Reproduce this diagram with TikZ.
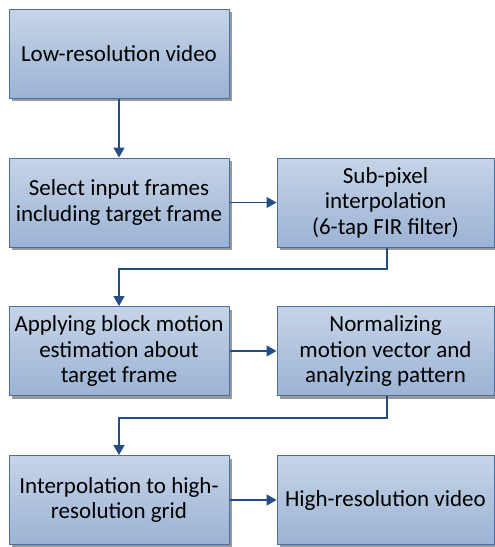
\documentclass[tikz,border=0pt]{standalone}
\usepackage{fontspec}
\setmainfont{Carlito}
\usetikzlibrary{arrows.meta,shadows}
\definecolor{boxtop}{HTML}{C6D4E7}
\definecolor{boxbot}{HTML}{9BB3D4}
\definecolor{boxline}{HTML}{4A6E9E}
\definecolor{arrowc}{HTML}{244C85}
\tikzset{
  stepbox/.style={rectangle, draw=boxline, line width=1pt,
    top color=boxtop, bottom color=boxbot,
    general shadow={shadow xshift=3pt, shadow yshift=-3pt, fill=black!40},
    align=center, inner sep=2pt,
    font=\fontsize{23pt}{25.5pt}\selectfont},
  lbox/.style={stepbox, minimum width=220pt, minimum height=89pt},
  rbox/.style={stepbox, minimum width=217pt, minimum height=89pt},
  conn/.style={draw=arrowc, line width=1.5pt, -{Triangle[length=10pt,width=11pt]}}
}
\begin{document}
\begin{tikzpicture}[x=1pt,y=-1pt]
\useasboundingbox (0,0) rectangle (495,547);
\node[lbox] (lr) at (119,53.5) {Low-resolution video};
\node[lbox] (sel) at (119,202.5) {Select input frames\\including target frame};
\node[rbox] (sub) at (385.5,202.5) {Sub-pixel\\interpolation\\(6-tap FIR filter)};
\node[lbox] (bme) at (119,351) {Applying block motion\\estimation about\\target frame};
\node[rbox] (norm) at (385.5,351) {Normalizing\\motion vector and\\analyzing pattern};
\node[lbox] (interp) at (119,500) {Interpolation to high-\\resolution grid};
\node[rbox] (hr) at (385.5,500) {High-resolution video};
\coordinate (c1) at (387,269);
\coordinate (c2) at (387,418);
\draw[conn] (lr.south) -- (sel.north);
\draw[conn] (sel.east) -- (sub.west);
\draw[conn] (sub.south -| c1) -- (c1) -| (bme.north);
\draw[conn] (bme.east) -- (norm.west);
\draw[conn] (norm.south -| c2) -- (c2) -| (interp.north);
\draw[conn] (interp.east) -- (hr.west);
\end{tikzpicture}
\end{document}
